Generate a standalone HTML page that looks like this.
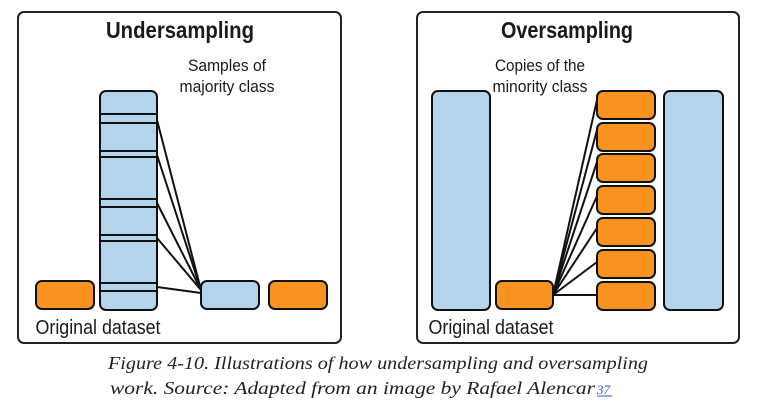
<!DOCTYPE html>
<html><head><style>
body{margin:0;width:757px;height:401px;background:#fff;overflow:hidden}
</style></head><body>
<svg width="757" height="401" xmlns="http://www.w3.org/2000/svg" style="position:absolute;left:0;top:0">
<g stroke="#222" stroke-width="2">
<rect x="18" y="12" width="323" height="331" rx="6" fill="#fff"/>
<rect x="417" y="12" width="322" height="331" rx="6" fill="#fff"/>
</g>
<g font-family="Liberation Sans, sans-serif" fill="#1a1a1a" text-anchor="middle">
<text x="180" y="38" font-size="23" font-weight="bold" textLength="148" lengthAdjust="spacingAndGlyphs">Undersampling</text>
<text x="567" y="38" font-size="23" font-weight="bold" textLength="132" lengthAdjust="spacingAndGlyphs">Oversampling</text>
<text x="227" y="71" font-size="17" textLength="78" lengthAdjust="spacingAndGlyphs">Samples of</text>
<text x="227" y="92" font-size="17" textLength="95" lengthAdjust="spacingAndGlyphs">majority class</text>
<text x="540" y="71" font-size="17" textLength="90" lengthAdjust="spacingAndGlyphs">Copies of the</text>
<text x="540" y="92" font-size="17" textLength="95" lengthAdjust="spacingAndGlyphs">minority class</text>
<text x="98" y="334" font-size="20" textLength="125" lengthAdjust="spacingAndGlyphs">Original dataset</text>
<text x="491" y="334" font-size="20" textLength="125" lengthAdjust="spacingAndGlyphs">Original dataset</text>
</g>
<g stroke="#111" stroke-width="2">
<line x1="157" y1="120" x2="201" y2="290"/>
<line x1="157" y1="155" x2="201" y2="290"/>
<line x1="157" y1="203" x2="201" y2="290"/>
<line x1="157" y1="238" x2="201" y2="290"/>
<line x1="157" y1="287" x2="201" y2="293"/>
<line x1="553" y1="295" x2="597" y2="100"/>
<line x1="553" y1="295" x2="597" y2="130"/>
<line x1="553" y1="295" x2="597" y2="162"/>
<line x1="553" y1="295" x2="597" y2="196"/>
<line x1="553" y1="295" x2="597" y2="228"/>
<line x1="553" y1="295" x2="597" y2="262"/>
<line x1="553" y1="295" x2="597" y2="295"/>
</g>
<g stroke="#111" stroke-width="2">
<rect x="100" y="91" width="57" height="219" rx="6" fill="#b4d4ea"/>
<line x1="100" y1="114" x2="157" y2="114"/><line x1="100" y1="123" x2="157" y2="123"/>
<line x1="100" y1="151" x2="157" y2="151"/><line x1="100" y1="157" x2="157" y2="157"/>
<line x1="100" y1="199" x2="157" y2="199"/><line x1="100" y1="207" x2="157" y2="207"/>
<line x1="100" y1="235" x2="157" y2="235"/><line x1="100" y1="241" x2="157" y2="241"/>
<line x1="100" y1="283" x2="157" y2="283"/><line x1="100" y1="291" x2="157" y2="291"/>
<rect x="36" y="281" width="58" height="28" rx="6" fill="#f7931e"/>
<rect x="201" y="281" width="58" height="28" rx="6" fill="#b4d4ea"/>
<rect x="269" y="281" width="58" height="28" rx="6" fill="#f7931e"/>
<rect x="432" y="91" width="58" height="219" rx="6" fill="#b4d4ea"/>
<rect x="664" y="91" width="59" height="219" rx="6" fill="#b4d4ea"/>
<rect x="496" y="281" width="57" height="28" rx="6" fill="#f7931e"/>
<rect x="597" y="91" width="58" height="28" rx="6" fill="#f7931e"/>
<rect x="597" y="123" width="58" height="28" rx="6" fill="#f7931e"/>
<rect x="597" y="154" width="58" height="28" rx="6" fill="#f7931e"/>
<rect x="597" y="186" width="58" height="28" rx="6" fill="#f7931e"/>
<rect x="597" y="218" width="58" height="28" rx="6" fill="#f7931e"/>
<rect x="597" y="250" width="58" height="28" rx="6" fill="#f7931e"/>
<rect x="597" y="282" width="58" height="28" rx="6" fill="#f7931e"/>
</g>
<g font-family="Liberation Serif, serif" font-style="italic" font-size="18" fill="#222">
<text x="108" y="369" textLength="540" lengthAdjust="spacingAndGlyphs">Figure 4-10. Illustrations of how undersampling and oversampling</text>
<text x="110" y="394" textLength="485" lengthAdjust="spacingAndGlyphs">work. Source: Adapted from an image by Rafael Alencar</text>
<text x="597" y="394" font-size="13" fill="#3355cc">37</text>
<line x1="597" y1="396" x2="612" y2="396" stroke="#3355cc" stroke-width="1"/>
</g>
</svg>
</body></html>
